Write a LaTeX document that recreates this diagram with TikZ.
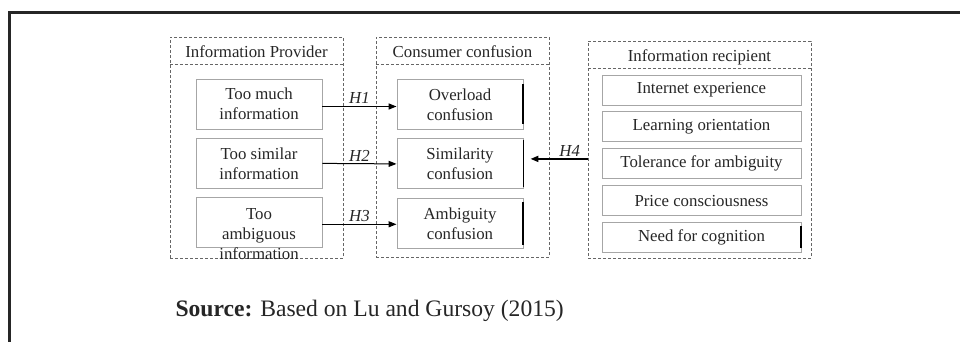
\documentclass[tikz,border=0pt]{standalone}
\usepackage{fontspec}
\setmainfont{Liberation Serif}
\usetikzlibrary{arrows.meta,positioning,calc}

\begin{document}
\begin{tikzpicture}[x=1pt,y=-1pt]
\tikzset{every node/.style={font=\fontsize{16.8}{20}\selectfont, text=black!85}}
\tikzset{group/.style={draw=black!60, dash pattern=on 3pt off 2pt, line width=0.8pt, inner sep=0pt}}
\tikzset{grouptitle/.style={inner sep=0pt, minimum height=27pt, text height=15pt, text depth=0pt}}
\tikzset{factor/.style={draw=black!35, line width=0.9pt, minimum width=126pt, minimum height=50pt, inner sep=0pt, align=center}}
\tikzset{trait/.style={draw=black!35, line width=0.9pt, minimum width=199pt, minimum height=30pt, inner sep=0pt}}
\tikzset{hyp/.style={draw=black, line width=1pt, -{Triangle[length=8pt,width=6pt]}}}
\tikzset{hlabel/.style={font=\fontsize{16.8}{20}\selectfont\itshape, above, inner sep=2pt}}
\useasboundingbox (0,0) rectangle (960,342);
\draw[line width=3.5pt, black!85] (9.3,342) -- (9.3,12.4) -- (960,12.4);
\node[group, minimum width=173pt, minimum height=221pt] (prov) at (256.5,147.5) {};
\node[grouptitle, minimum width=173pt] (provtitle) at (256.5,50.5) {Information Provider};
\node[group, minimum width=173pt, minimum height=220pt] (conf) at (462.5,147) {};
\node[grouptitle, minimum width=173pt] (conftitle) at (462.5,50.5) {Consumer confusion};
\node[group, minimum width=223pt, minimum height=217pt] (recip) at (699.5,149.5) {};
\node[grouptitle, minimum width=223pt] (reciptitle) at (699.5,54.5) {Information recipient};
\draw[group] (provtitle.south west) -- (provtitle.south east);
\draw[group] (conftitle.south west) -- (conftitle.south east);
\draw[group] (reciptitle.south west) -- (reciptitle.south east);
\node[factor] (much) at (259,104) {Too much\\information};
\node[factor, below=8.5pt of much] (simil) {Too similar\\information};
\node[factor, below=8.5pt of simil] (amb) {};
\node[align=center, inner sep=0pt] (ambtext) at ($(amb)+(0,11)$) {Too\\ambiguous\\information};
\node[factor] (ovl) at (460,104.5) {Overload\\confusion};
\node[factor, below=8.5pt of ovl] (sim) {Similarity\\confusion};
\node[factor, below=8.5pt of sim] (ambc) {Ambiguity\\confusion};
\node[trait] (inet) at (701.5,90) {Internet experience};
\node[trait, below=6pt of inet] (learn) {Learning orientation};
\node[trait, below=6pt of learn] (toler) {Tolerance for ambiguity};
\node[trait, below=6pt of toler] (price) {Price consciousness};
\node[trait, below=6pt of price] (cogn) {Need for cognition};
\draw[line width=2pt] ([yshift=-5pt]ovl.north east) -- ([yshift=6pt]ovl.south east);
\draw[line width=1pt] ([yshift=-2pt]sim.north east) -- ([yshift=2pt]sim.south east);
\draw[line width=2pt] ([yshift=-4pt]ambc.north east) -- ([yshift=4pt]ambc.south east);
\draw[line width=2pt] ([yshift=-4pt]cogn.north east) -- ([yshift=5pt]cogn.south east);
\draw[hyp, line width=1.4pt] ([yshift=-2.5pt]much.east) -- ([yshift=-2.5pt]much.east -| ovl.west) node[hlabel, midway] {H1};
\draw[hyp] (simil.east) -- (sim.west) node[hlabel, midway] {H2};
\draw[hyp] ([yshift=-1.5pt]amb.east) -- ([yshift=-1.5pt]amb.east -| ambc.west) node[hlabel, midway] {H3};
\coordinate (h4end) at ([yshift=5pt]sim.east);
\draw[hyp, line width=1.8pt, shorten >=7pt] (recip.west |- h4end) -- (h4end) node[hlabel, pos=0.28] {H4};
\node[anchor=base west, font=\fontsize{23.6}{28}\selectfont] (src) at (172,316) {\textbf{Source:} Based on Lu and Gursoy (2015)};
\end{tikzpicture}
\end{document}
